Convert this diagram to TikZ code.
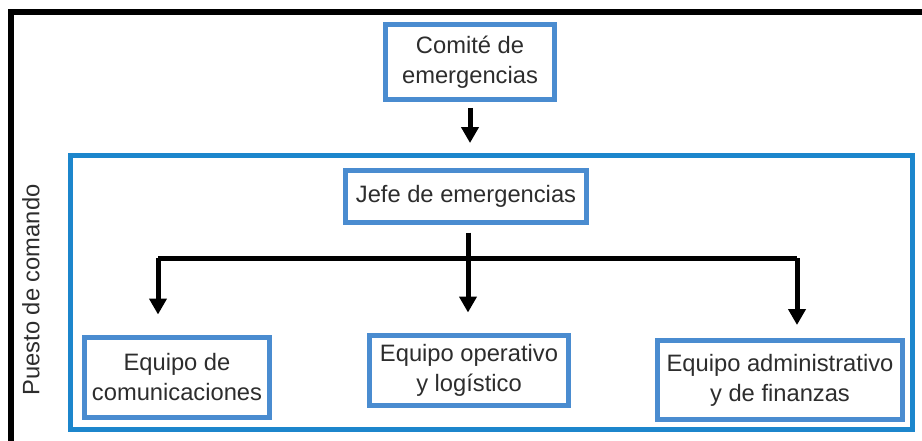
\documentclass[tikz,border=0pt]{standalone}
\usepackage{fontspec}
\setmainfont{Liberation Sans}
\usepackage{xcolor}
\usepackage{tikz}
\usetikzlibrary{calc,positioning,arrows.meta}

\definecolor{cajaazul}{RGB}{74,140,208}
\definecolor{marcoazul}{RGB}{28,134,204}
\definecolor{texto}{RGB}{45,45,45}

\begin{document}
\begin{tikzpicture}[x=0.02cm,y=-0.02cm,
    caja/.style={draw=cajaazul, line width=0.1cm, fill=white, align=center, text=texto,
                 font=\fontsize{13.5}{17}\selectfont, inner sep=0pt},
    flecha/.style={line width=0.1cm, -{Triangle[length=0.32cm,width=0.34cm]}},
    linea/.style={line width=0.1cm}]
\useasboundingbox (0,0) rectangle (922,440);
\clip (0,0) rectangle (922,440);

%Frame
\draw[line width=0.11cm] (11,470) -- (11,12) -- (960,12);

%Puesto de comando
\node[draw=marcoazul, line width=0.1cm, minimum width=16.84cm, minimum height=5.48cm, inner sep=0pt] (puesto) at (491.5,292.5) {};
\node[rotate=90, text=texto, font=\fontsize{13.5}{17}\selectfont] (etiqueta) at (31,290) {Puesto de comando};

%Boxes
\node[caja, minimum width=3.38cm, minimum height=1.5cm] (comite) at (470,62) {Comité de\\emergencias};
\node[caja, minimum width=4.84cm, minimum height=1.04cm] (jefe) at (466,196) {Jefe de emergencias};
\node[caja, minimum width=3.7cm, minimum height=1.6cm] (comun) at (177,377) {Equipo de\\comunicaciones};
\node[caja, minimum width=4.0cm, minimum height=1.4cm] (oper) at (469,370) {Equipo operativo\\y logístico};
\node[caja, minimum width=4.92cm, minimum height=1.58cm] (admin) at (780,380) {Equipo administrativo\\y de finanzas};

%Arrows
\draw[flecha, shorten <=0.12cm, shorten >=0.2cm] (comite.south) -- (comite.south |- puesto.north);
\coordinate (split) at (468,258);
\coordinate (izq) at (158,258);
\coordinate (der) at (797,258);
\draw[linea] (izq) -- (der);
\draw[linea, shorten <=0.16cm] (jefe.south -| split) -- (split);
\draw[flecha, shorten >=0.4cm] (izq) -- (izq |- comun.north);
\draw[flecha, shorten >=0.4cm] (split) -- (split |- oper.north);
\draw[flecha, shorten >=0.26cm] (der) -- (der |- admin.north);

\end{tikzpicture}
\end{document}
